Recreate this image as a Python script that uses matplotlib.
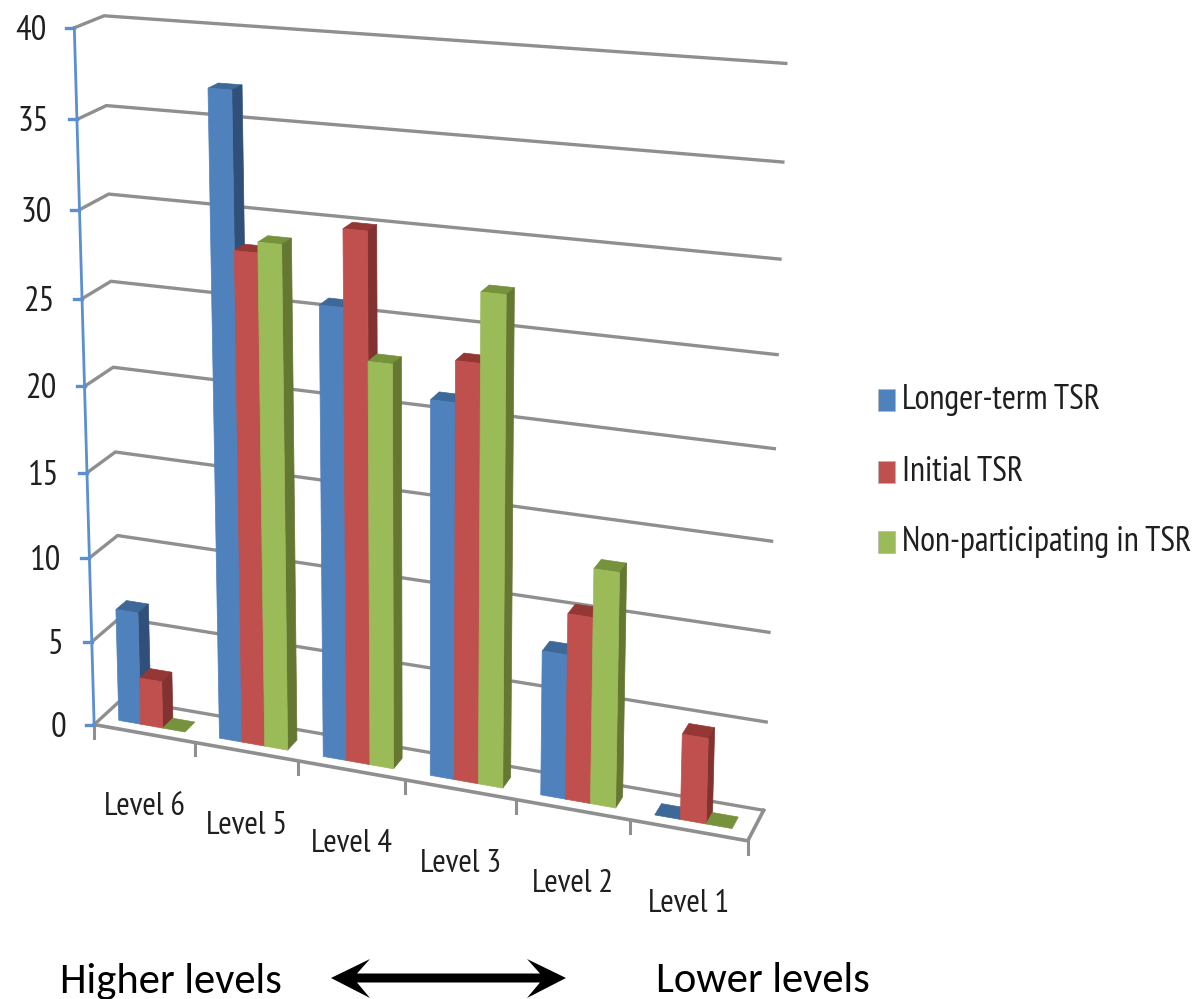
#!/usr/bin/env python3
"""3D-look clustered columns: TSR participation by reading level."""
import numpy as np
import matplotlib
matplotlib.use("Agg")
import matplotlib.pyplot as plt
from matplotlib.patches import Polygon, Rectangle

NARROW = ["PT Sans Narrow", "Roboto Condensed", "Liberation Sans"]
plt.rcParams["font.family"] = NARROW

levels = ["Level 6", "Level 5", "Level 4", "Level 3", "Level 2", "Level 1"]
series = ["Longer-term TSR", "Initial TSR", "Non-participating in TSR"]
longer_term = [6.7, 37.05, 25.8, 21.3, 8.2, 0]
initial = [2.8, 28.3, 30.1, 23.6, 10.5, 4.8]
non_part = [0, 28.9, 23.0, 27.45, 13.2, 0]
yticks = [0, 5, 10, 15, 20, 25, 30, 35, 40]

# pixel positions of the box corners, only used to fit the camera
calib = [((0, 0, v), xy) for v, xy in zip(yticks, [(94, 724), (92.5, 642), (90.5, 558), (88, 472), (85.5, 385),
                                                    (82, 299), (79.5, 210), (76.5, 119), (73.6, 28.5)])]
calib += [((0, 1, v), xy) for v, xy in [(40, (105, 16)), (35, (106, 105)), (30, (108, 194)), (25, (110, 282)),
                                        (10, (118, 535)), (0, (122, 700))]]
calib += [((6, 1, v), xy) for v, xy in zip(yticks, [(763, 809), (767, 722), (768, 632), (772, 542), (775, 448),
                                                    (778, 355), (780, 260), (783, 162), (785, 63)])]
calib += [((i, 0, 0), xy) for i, xy in enumerate([(94, 724), (193, 743), (298, 762), (405, 781), (516, 800),
                                                  (630, 820), (748, 840)])]

rows = []
for (x, d, v), (u, w) in calib:
    rows.append([x, d, v, 1, 0, 0, 0, 0, -u * x, -u * d, -u * v, -u])
    rows.append([0, 0, 0, 0, x, d, v, 1, -w * x, -w * d, -w * v, -w])
cam = np.linalg.svd(np.array(rows, float))[2][-1].reshape(3, 4)


def proj(x, d, v):
    p = cam @ np.array([x, d, v, 1.0])
    return p[0] / p[2], p[1] / p[2]


fig = plt.figure(figsize=(11.98, 9.99), dpi=100)
ax = fig.add_axes([0, 0, 1, 1])
ax.set_xlim(0, 1198)
ax.set_ylim(999, 0)
ax.axis("off")

GRID = "#8f8f8f"
INK = "#1f1f1f"

# walls
for v in yticks:
    pts = [proj(0, 0, v), proj(0, 1, v), proj(6, 1, v)]
    ax.plot(*zip(*pts), color=GRID, lw=2.4, solid_joinstyle="miter", zorder=1)
floor = [proj(0, 0, 0), proj(6, 0, 0), proj(6, 1, 0)]
ax.plot(*zip(*floor), color=GRID, lw=2.6, zorder=1)
for i in range(7):
    x0, y0 = proj(i, 0, 0)
    ax.plot([x0, x0], [y0, y0 + 13], color=GRID, lw=2.2, zorder=1)

# value axis
ax.plot(*zip(proj(0, 0, 0), proj(0, 0, 40)), color="#5b8fd0", lw=2, zorder=2)
for v in yticks:
    x0, y0 = proj(0, 0, v)
    ax.plot([x0 - 8, x0], [y0, y0], color="#5b8fd0", lw=2.4, zorder=2)
    ax.text(x0 - 28, y0 + 3, str(v), ha="right", va="center", fontsize=25, color=INK)

# columns
colors = [("#4f81bd", "#3e6898", "#30507a"), ("#c0504d", "#953735", "#823230"), ("#9bbb59", "#76923c", "#647832")]
START, WIDTH, D0, D1 = 0.17, 0.22, 0.28, 0.66
z = 3
for i in range(len(levels)):
    for s, vals in enumerate([longer_term, initial, non_part]):
        v = vals[i]
        x0 = i + START + s * WIDTH
        x1 = x0 + WIDTH
        front, top, side = colors[s]
        ax.add_patch(Polygon([proj(x0, D0, v), proj(x1, D0, v), proj(x1, D1, v), proj(x0, D1, v)],
                             fc=top, ec=top, lw=0.5, zorder=z))
        if v > 0:
            ax.add_patch(Polygon([proj(x1, D0, 0), proj(x1, D1, 0), proj(x1, D1, v), proj(x1, D0, v)],
                                 fc=side, ec=side, lw=0.5, zorder=z))
            ax.add_patch(Polygon([proj(x0, D0, 0), proj(x1, D0, 0), proj(x1, D0, v), proj(x0, D0, v)],
                                 fc=front, ec=front, lw=0.5, zorder=z + 1))
        z += 2

# category labels
for i, name in enumerate(levels):
    x0, y0 = proj(i + 0.5, 0, 0)
    ax.text(x0, y0 + 74, name, ha="center", va="center", fontsize=23.5, color=INK)

# legend
for s, name in enumerate(series):
    yc = [400, 472, 542][s]
    ax.add_patch(Rectangle((878, yc - 11), 17, 22, fc=colors[s][0], ec="#b5b5b5", lw=0.5))
    ax.text(902, yc, name, ha="left", va="center", fontsize=24.6, color=INK)

# direction note
NOTE = ["Carlito", "Lato", "DejaVu Sans"]
ax.text(60, 981, "Higher levels", ha="left", va="center", fontsize=30.7, family=NOTE, color="black")
ax.text(656, 981, "Lower levels", ha="left", va="center", fontsize=30.7, family=NOTE, color="black")
ax.add_patch(Polygon([(331, 978), (370, 959), (357, 973.5), (540, 973.5), (527, 959), (566, 978),
                      (527, 998), (540, 982.5), (357, 982.5), (370, 998)], fc="black", ec="none"))

fig.savefig("out.png", dpi=100)
